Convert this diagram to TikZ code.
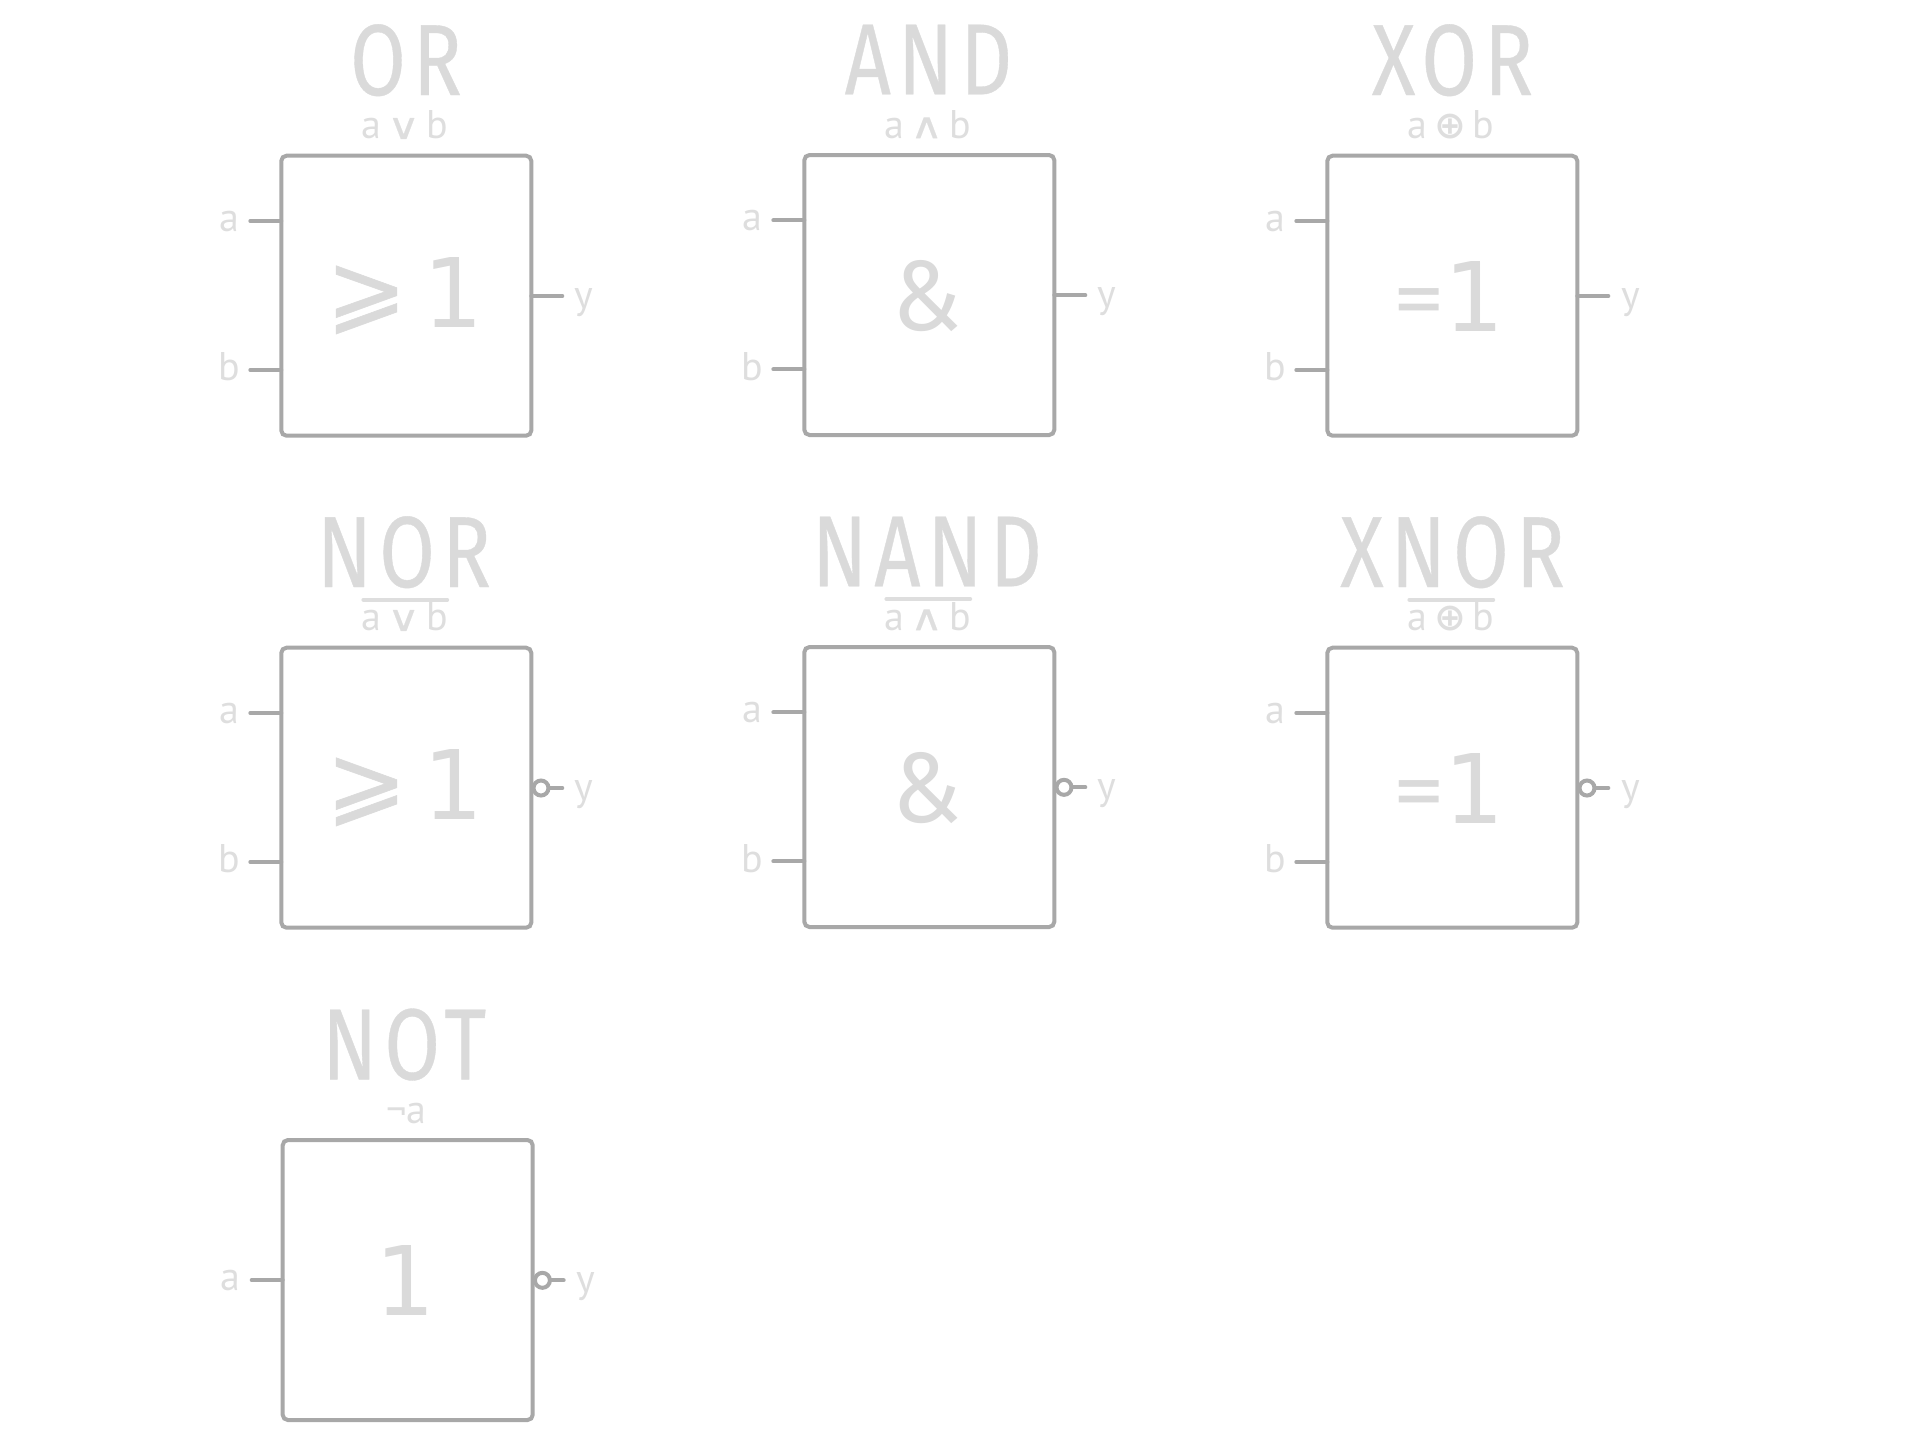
\documentclass[tikz,border=0pt]{standalone}
\usepackage{fontspec}
\setmainfont{PT Sans}
\newfontfamily\titlefont[LetterSpace=7,FakeStretch=0.8,FakeBold=0.35]{Fira Sans}
\newfontfamily\ampfont[FakeStretch=0.95]{Fira Sans}
\newfontfamily\eqfont{PT Sans}
\newfontfamily\onefont[FakeStretch=0.98]{DejaVu Sans}
\newfontfamily\opfont[FakeStretch=1.25,FakeBold=0.5]{DejaVu Sans}
\newfontfamily\xopfont{DejaVu Sans}
\newfontfamily\geqfont[FakeBold=0.6]{DejaVu Sans}
\definecolor{wirecol}{HTML}{A8A8A8}
\definecolor{inkbig}{HTML}{DADADA}
\definecolor{inksmall}{HTML}{DEDEDE}
\tikzset{
  gatebox/.style={draw=wirecol,line width=2pt,rounded corners=2.6pt,minimum width=125pt,minimum height=140pt,inner sep=0pt,outer sep=0pt,anchor=north west},
  wire/.style={draw=wirecol,line width=2pt,line cap=round},
  bubble/.style={draw=wirecol,line width=2pt,circle,fill=white,minimum size=7.5pt,inner sep=0pt,outer sep=0pt},
  titletext/.style={text=inkbig,inner sep=0pt,anchor=base,font=\fontsize{50.5}{50}\selectfont\titlefont},
  exprtext/.style={text=inksmall,inner sep=0pt,anchor=base,font=\fontsize{20}{20}\selectfont},
  pintext/.style={text=inksmall,inner sep=0pt,anchor=base,font=\fontsize{20}{20}\selectfont},
  symtext/.style={text=inkbig,inner sep=0pt,anchor=base},
  overbar/.style={draw=inksmall,line width=1.9pt,line cap=round},
}
% #1 name, #2 left, #3 top, #4 title cx, #5 title, #6 expr, #7 sym cx, #8 sym baseline, #9 symbol
\newcommand{\gatehead}[9]{%
  \begin{scope}[shift={(#2,#3)}]
    \node[gatebox] (#1box) at (0,0) {};
    \node[titletext] (#1title) at (#4,-60.7) {#5};
    \node[exprtext] (#1expr) at (123.5,-16.8) {#6};
    \node[symtext] (#1sym) at (#7,#8) {#9};
  \end{scope}}
\newcommand{\twoin}[1]{%
  \coordinate (#1ia) at ([shift={(-31,65.3)}]#1box.north west);
  \coordinate (#1ib) at ([shift={(-31,214.3)}]#1box.north west);
  \draw[wire] (#1ia) -- (#1box.west |- #1ia);
  \draw[wire] (#1ib) -- (#1box.west |- #1ib);
  \node[pintext] (#1la) at ([shift={(-52,75.8)}]#1box.north west) {a};
  \node[pintext] (#1lb) at ([shift={(-52,225)}]#1box.north west) {b};}
\newcommand{\plainout}[1]{%
  \coordinate (#1oy) at ([shift={(31,140.3)}]#1box.north east);
  \draw[wire] (#1box.east |- #1oy) -- (#1oy);
  \node[pintext] (#1ly) at ([shift={(53,152.3)}]#1box.north east) {y};}
\newcommand{\negout}[1]{%
  \coordinate (#1oy) at ([shift={(31,140.3)}]#1box.north east);
  \node[bubble] (#1bub) at ([shift={(9.7,140.3)}]#1box.north east) {};
  \draw[wire] (#1bub) -- (#1oy);
  \node[pintext] (#1ly) at ([shift={(53,152.3)}]#1box.north east) {y};}
\newcommand{\veeop}{\hspace{3pt}{\opfont\fontsize{18}{18}\selectfont ∨}\hspace{3.3pt}}
\newcommand{\wedgeop}{\hspace{3pt}{\opfont\fontsize{18}{18}\selectfont ∧}\hspace{3.3pt}}
\newcommand{\xorop}{\hspace{3.3pt}{\xopfont\bfseries\fontsize{19}{19}\selectfont ⊕}\hspace{3.3pt}}
\newcommand{\geone}{\raisebox{2.8pt}{\geqfont\fontsize{48.5}{48}\selectfont ⩾}\hspace{8pt}{\onefont\fontsize{48}{48}\selectfont 1}}
\newcommand{\eqone}{{\eqfont\fontsize{47}{47}\selectfont =}\hspace{1pt}{\onefont\fontsize{48}{48}\selectfont 1}}
\newcommand{\justone}{{\onefont\fontsize{48}{48}\selectfont 1}}
\newcommand{\ampsym}{{\ampfont\fontsize{50}{50}\selectfont \&}}
\begin{document}
\begin{tikzpicture}[x=0.5pt,y=-0.5pt]
\useasboundingbox (0,0) rectangle (1920,1448);
\gatehead{or}{281.3}{155.7}{124.7}{OR}{a\veeop b}{123.2}{172}{\geone}
\twoin{or}\plainout{or}
\gatehead{and}{804.3}{155}{124.2}{AND}{a\wedgeop b}{123}{175}{\ampsym}
\twoin{and}\plainout{and}
\gatehead{xor}{1327.3}{155.7}{125.2}{XOR}{a\xorop b}{122.7}{175.3}{\eqone}
\twoin{xor}\plainout{xor}
\gatehead{nor}{281.3}{647.7}{122.7}{NOR}{a\veeop b}{123.2}{172}{\geone}
\twoin{nor}\negout{nor}
\draw[overbar] ([shift={(82,-48)}]norbox.north west) -- ([shift={(166,-48)}]norbox.north west);
\gatehead{nand}{804.3}{647}{122.7}{NAND}{a\wedgeop b}{123}{175}{\ampsym}
\twoin{nand}\negout{nand}
\draw[overbar] ([shift={(82,-48)}]nandbox.north west) -- ([shift={(166,-48)}]nandbox.north west);
\gatehead{xnor}{1327.3}{647.7}{125.2}{XNOR}{a\xorop b}{122.7}{175.3}{\eqone}
\twoin{xnor}\negout{xnor}
\draw[overbar] ([shift={(82,-48)}]xnorbox.north west) -- ([shift={(166,-48)}]xnorbox.north west);
\gatehead{not}{282.7}{1140}{121.5}{NOT}{¬a}{122.3}{175}{\justone}
\coordinate (notia) at ([shift={(-31,140)}]notbox.north west);
\draw[wire] (notia) -- (notbox.west |- notia);
\node[pintext] (notla) at ([shift={(-52,150.8)}]notbox.north west) {a};
\negout{not}
\end{tikzpicture}
\end{document}
